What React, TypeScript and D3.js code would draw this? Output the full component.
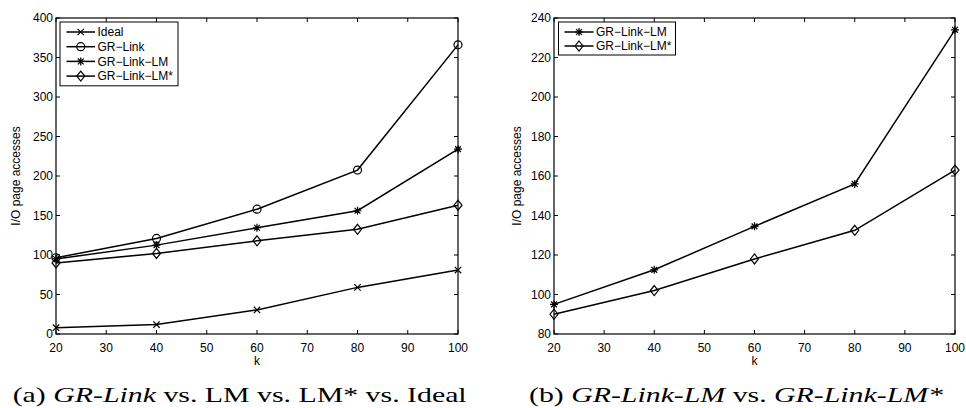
import React from "react";
import * as d3 from "d3";

const kValues = [20, 40, 60, 80, 100];
const ideal = [8, 12, 30.5, 59, 81];
const grLink = [96.5, 121, 158, 207.5, 366];
const grLinkLM = [95, 112.5, 134.5, 156, 234];
const grLinkLMStar = [90, 102, 118, 132.5, 163];
const xTicks = [20, 30, 40, 50, 60, 70, 80, 90, 100];
const yTicksA = [0, 50, 100, 150, 200, 250, 300, 350, 400];
const yTicksB = [80, 100, 120, 140, 160, 180, 200, 220, 240];

type Marker = "x" | "o" | "*" | "d";

function MarkerShape({ kind, cx, cy }: { kind: Marker; cx: number; cy: number }) {
  const s = { stroke: "#000", strokeWidth: 1.2, fill: "none" } as const;
  if (kind === "x") {
    const r = 3.2;
    return (
      <path d={`M${cx - r},${cy - r}L${cx + r},${cy + r}M${cx - r},${cy + r}L${cx + r},${cy - r}`} {...s} />
    );
  }
  if (kind === "o") return <circle cx={cx} cy={cy} r={4} {...s} fill="#fff" fillOpacity={0} />;
  if (kind === "*") {
    const r = 4;
    const q = 2.9;
    return (
      <path
        d={`M${cx - r},${cy}L${cx + r},${cy}M${cx},${cy - r}L${cx},${cy + r}M${cx - q},${cy - q}L${cx + q},${cy + q}M${cx - q},${cy + q}L${cx + q},${cy - q}`}
        {...s}
      />
    );
  }
  return <path d={`M${cx},${cy - 5}L${cx + 4},${cy}L${cx},${cy + 5}L${cx - 4},${cy}Z`} {...s} />;
}

type Series = { name: string; values: number[]; marker: Marker };

function Panel({
  x0, x1, yDomain, yTicks, series, legend, ylabelX,
}: {
  x0: number; x1: number; yDomain: [number, number]; yTicks: number[]; series: Series[];
  legend: { x: number; y: number; w: number; rowH: number; lineX0: number; lineX1: number; textX: number };
  ylabelX: number;
}) {
  const top = 18, bottom = 334;
  const x = d3.scaleLinear().domain([20, 100]).range([x0, x1]);
  const y = d3.scaleLinear().domain(yDomain).range([bottom, top]);
  const line = d3.line<number>().x((_, i) => x(kValues[i])).y((v) => y(v));
  const tl = 4;
  const font = "'Liberation Sans', Arial, sans-serif";
  return (
    <g>
      {series.map((s) => (
        <g key={s.name}>
          <path d={line(s.values) || ""} stroke="#000" strokeWidth={1.5} fill="none" />
          {s.values.map((v, i) => (
            <MarkerShape key={i} kind={s.marker} cx={x(kValues[i])} cy={y(v)} />
          ))}
        </g>
      ))}
      <rect x={x0} y={top} width={x1 - x0} height={bottom - top} fill="none" stroke="#000" strokeWidth={1.2} />
      {xTicks.map((t) => (
        <g key={t}>
          <line x1={x(t)} x2={x(t)} y1={bottom} y2={bottom - tl} stroke="#000" strokeWidth={1} />
          <line x1={x(t)} x2={x(t)} y1={top} y2={top + tl} stroke="#000" strokeWidth={1} />
          <text x={x(t)} y={351.5} textAnchor="middle" fontSize={12} fontFamily={font} fill="#000">{t}</text>
        </g>
      ))}
      {yTicks.map((t) => (
        <g key={t}>
          <line x1={x0} x2={x0 + tl} y1={y(t)} y2={y(t)} stroke="#000" strokeWidth={1} />
          <line x1={x1} x2={x1 - tl} y1={y(t)} y2={y(t)} stroke="#000" strokeWidth={1} />
          <text x={x0 - 3} y={y(t) + 4.3} textAnchor="end" fontSize={12} fontFamily={font} fill="#000">{t}</text>
        </g>
      ))}
      <text x={(x0 + x1) / 2} y={365} textAnchor="middle" fontSize={12} fontFamily={font} fill="#000">k</text>
      <text
        transform={`translate(${ylabelX},${(top + bottom) / 2}) rotate(-90)`}
        textAnchor="middle" fontSize={12} fontFamily={font} fill="#000"
      >
        I/O page accesses
      </text>
      <rect x={legend.x} y={legend.y} width={legend.w} height={legend.rowH * series.length + 5} fill="#fff" stroke="#000" strokeWidth={1} />
      {series.map((s, i) => {
        const cy = legend.y + 10 + i * legend.rowH;
        return (
          <g key={s.name}>
            <line x1={legend.lineX0} x2={legend.lineX1} y1={cy} y2={cy} stroke="#000" strokeWidth={1.5} />
            <MarkerShape kind={s.marker} cx={(legend.lineX0 + legend.lineX1) / 2} cy={cy} />
            <text x={legend.textX} y={cy + 4.3} fontSize={12} fontFamily={font} fill="#000">{s.name}</text>
          </g>
        );
      })}
    </g>
  );
}

export default function App() {
  const serif = "'Liberation Serif', 'Times New Roman', serif";
  return (
    <svg width={966} height={408} style={{ position: "absolute", left: 0, top: 0, background: "#fff" }}>
      <rect width={966} height={408} fill="#fff" />
      <Panel
        x0={56} x1={458} yDomain={[0, 400]} yTicks={yTicksA} ylabelX={19.5}
        series={[
          { name: "Ideal", values: ideal, marker: "x" },
          { name: "GR\u2212Link", values: grLink, marker: "o" },
          { name: "GR\u2212Link\u2212LM", values: grLinkLM, marker: "*" },
          { name: "GR\u2212Link\u2212LM*", values: grLinkLMStar, marker: "d" },
        ]}
        legend={{ x: 60, y: 22, w: 118, rowH: 14.7, lineX0: 66.5, lineX1: 95, textX: 97.5 }}
      />
      <Panel
        x0={554} x1={955} yDomain={[80, 240]} yTicks={yTicksB} ylabelX={521}
        series={[
          { name: "GR\u2212Link\u2212LM", values: grLinkLM, marker: "*" },
          { name: "GR\u2212Link\u2212LM*", values: grLinkLMStar, marker: "d" },
        ]}
        legend={{ x: 558.5, y: 22, w: 117, rowH: 14, lineX0: 564.5, lineX1: 593.5, textX: 596 }}
      />
      <text x={12.7} y={402} fontSize={21} fontFamily={serif} fill="#000" textLength={454} lengthAdjust="spacingAndGlyphs">
        (a) <tspan fontStyle="italic">GR-Link</tspan> vs. LM vs. LM* vs. Ideal
      </text>
      <text x={529} y={402} fontSize={21} fontFamily={serif} fill="#000" textLength={414} lengthAdjust="spacingAndGlyphs">
        (b) <tspan fontStyle="italic">GR-Link-LM</tspan> vs. <tspan fontStyle="italic">GR-Link-LM*</tspan>
      </text>
    </svg>
  );
}
